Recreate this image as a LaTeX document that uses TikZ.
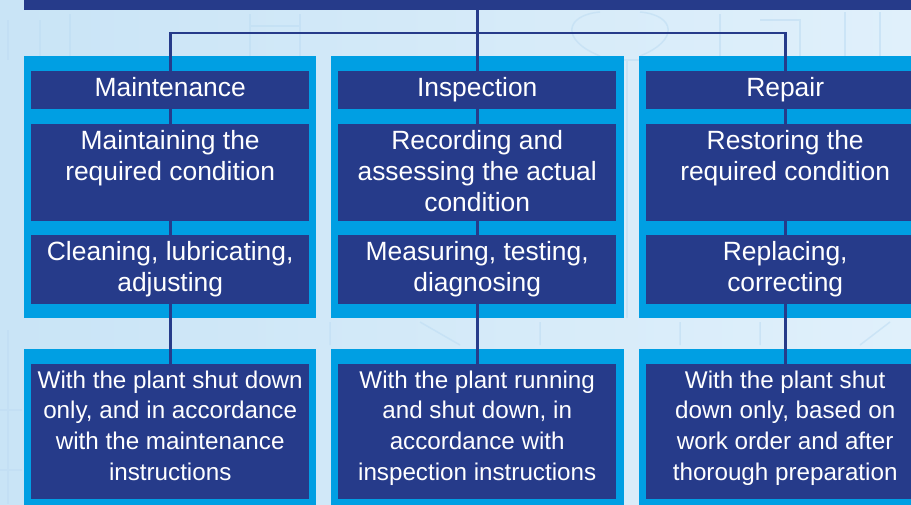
\documentclass[tikz,border=0pt]{standalone}
\usepackage{fontspec}
\setmainfont{Liberation Sans}
\definecolor{navy}{HTML}{263B8A}
\definecolor{cyanp}{HTML}{009FE3}
\definecolor{bgl}{HTML}{C9E4F6}
\definecolor{bgr}{HTML}{E0F0FB}
\definecolor{patt}{HTML}{BFDDF3}
\begin{document}
\begin{tikzpicture}[x=1pt,y=-1pt,
  panel/.style={fill=cyanp, draw=none, inner sep=0pt, anchor=north west, minimum width=292pt},
  dbox/.style={fill=navy, draw=none, inner sep=0pt, anchor=north west, minimum width=278pt},
  conn/.style={draw=navy, line width=2.6pt},
  ut/.style={text=white, font=\fontsize{26.4}{31}\selectfont, align=center, inner sep=0pt, anchor=north},
  lt/.style={text=white, font=\fontsize{24.2}{30.7}\selectfont, align=center, inner sep=0pt, anchor=north},
  faint/.style={draw=patt, line width=1.5pt, opacity=0.6}]
\useasboundingbox (0,0) rectangle (911,504);
\clip (0,0) rectangle (911,504);
% background
\shade[left color=bgl, right color=bgr] (0,0) rectangle (911,504);
% faint blueprint hints
\draw[faint] (8,20) -- (8,60) (40,20) -- (40,56) (70,14) -- (70,56);
\draw[faint] (250,14) -- (250,56) (250,26) -- (300,26) (300,14) -- (300,56);
\draw[faint] (600,56) .. controls (560,40) and (565,15) .. (600,12) (640,12) .. controls (675,15) and (680,40) .. (640,56);
\draw[faint] (720,14) -- (720,56) (760,20) -- (800,20) -- (800,56);
\draw[faint] (845,12) -- (845,56) (880,12) -- (880,56);
\draw[faint] (8,330) -- (8,504) (0,410) -- (22,410) (0,470) -- (22,470);
\draw[faint] (330,322) -- (330,345) (420,322) -- (460,345) (540,322) -- (540,345);
\draw[faint] (680,322) -- (680,345) (760,322) -- (760,345) (860,345) -- (890,322);
\draw[faint] (620,60) -- (640,60) (627,60) -- (627,318);
% top bar
\node[dbox, minimum width=900pt, minimum height=10pt] (bar) at (24,0) {};
% cyan panels
\node[panel, minimum height=262pt] (pu1) at (24,56) {};
\node[panel, minimum width=293pt, minimum height=262pt] (pu2) at (331,56) {};
\node[panel, minimum height=262pt] (pu3) at (639,56) {};
\node[panel, minimum height=170pt] (pl1) at (24,349) {};
\node[panel, minimum width=293pt, minimum height=170pt] (pl2) at (331,349) {};
\node[panel, minimum height=170pt] (pl3) at (639,349) {};
% dark boxes geometry
\node[dbox, minimum height=38pt] (h1) at (31,71) {};
\node[dbox, minimum height=38pt] (h2) at (338,71) {};
\node[dbox, minimum height=38pt] (h3) at (646,71) {};
\coordinate (j) at (478,33);
% connectors (behind dark boxes)
\draw[conn] (bar.south -| h2.north) -- (h2.north |- j);
\draw[conn] (h2.north |- j) -- (h2.north);
\draw[conn] (h1.north) -- (h1.north |- j) -- (h3.north |- j) -- (h3.north);
\node[dbox, minimum height=97pt] (m1) at (31,124) {};
\node[dbox, minimum height=97pt] (m2) at (338,124) {};
\node[dbox, minimum height=97pt] (m3) at (646,124) {};
\node[dbox, minimum height=69pt] (a1) at (31,235) {};
\node[dbox, minimum height=69pt] (a2) at (338,235) {};
\node[dbox, minimum height=69pt] (a3) at (646,235) {};
\node[dbox, minimum height=135pt] (b1) at (31,364) {};
\node[dbox, minimum height=135pt] (b2) at (338,364) {};
\node[dbox, minimum height=135pt] (b3) at (646,364) {};
\draw[conn] (h1.south) -- (m1.north);
\draw[conn] (h2.south) -- (m2.north);
\draw[conn] (h3.south) -- (m3.north);
\draw[conn] (m1.south) -- (a1.north);
\draw[conn] (m2.south) -- (a2.north);
\draw[conn] (m3.south) -- (a3.north);
\draw[conn] (a1.south) -- (b1.north);
\draw[conn] (a2.south) -- (b2.north);
\draw[conn] (a3.south) -- (b3.north);
% texts
\node[ut] (th1) at ([yshift=-6pt]h1.north) {Maintenance};
\node[ut] (th2) at ([yshift=-6pt]h2.north) {Inspection};
\node[ut] (th3) at ([yshift=-6pt]h3.north) {Repair};
\node[ut] (tm1) at ([yshift=-6pt]m1.north) {Maintaining the\\required condition};
\node[ut] (tm2) at ([yshift=-6pt]m2.north) {Recording and\\assessing the actual\\condition};
\node[ut] (tm3) at ([yshift=-6pt]m3.north) {Restoring the\\required condition};
\node[ut] (ta1) at ([yshift=-6pt]a1.north) {Cleaning, lubricating,\\adjusting};
\node[ut] (ta2) at ([yshift=-6pt]a2.north) {Measuring, testing,\\diagnosing};
\node[ut] (ta3) at ([yshift=-6pt]a3.north) {Replacing,\\correcting};
\node[lt] (tb1) at ([yshift=-6.5pt]b1.north) {With the plant shut down\\only, and in accordance\\with the maintenance\\instructions};
\node[lt] (tb2) at ([yshift=-6.5pt]b2.north) {With the plant running\\and shut down, in\\accordance with\\inspection instructions};
\node[lt] (tb3) at ([yshift=-6.5pt]b3.north) {With the plant shut\\down only, based on\\work order and after\\thorough preparation};
\end{tikzpicture}
\end{document}
